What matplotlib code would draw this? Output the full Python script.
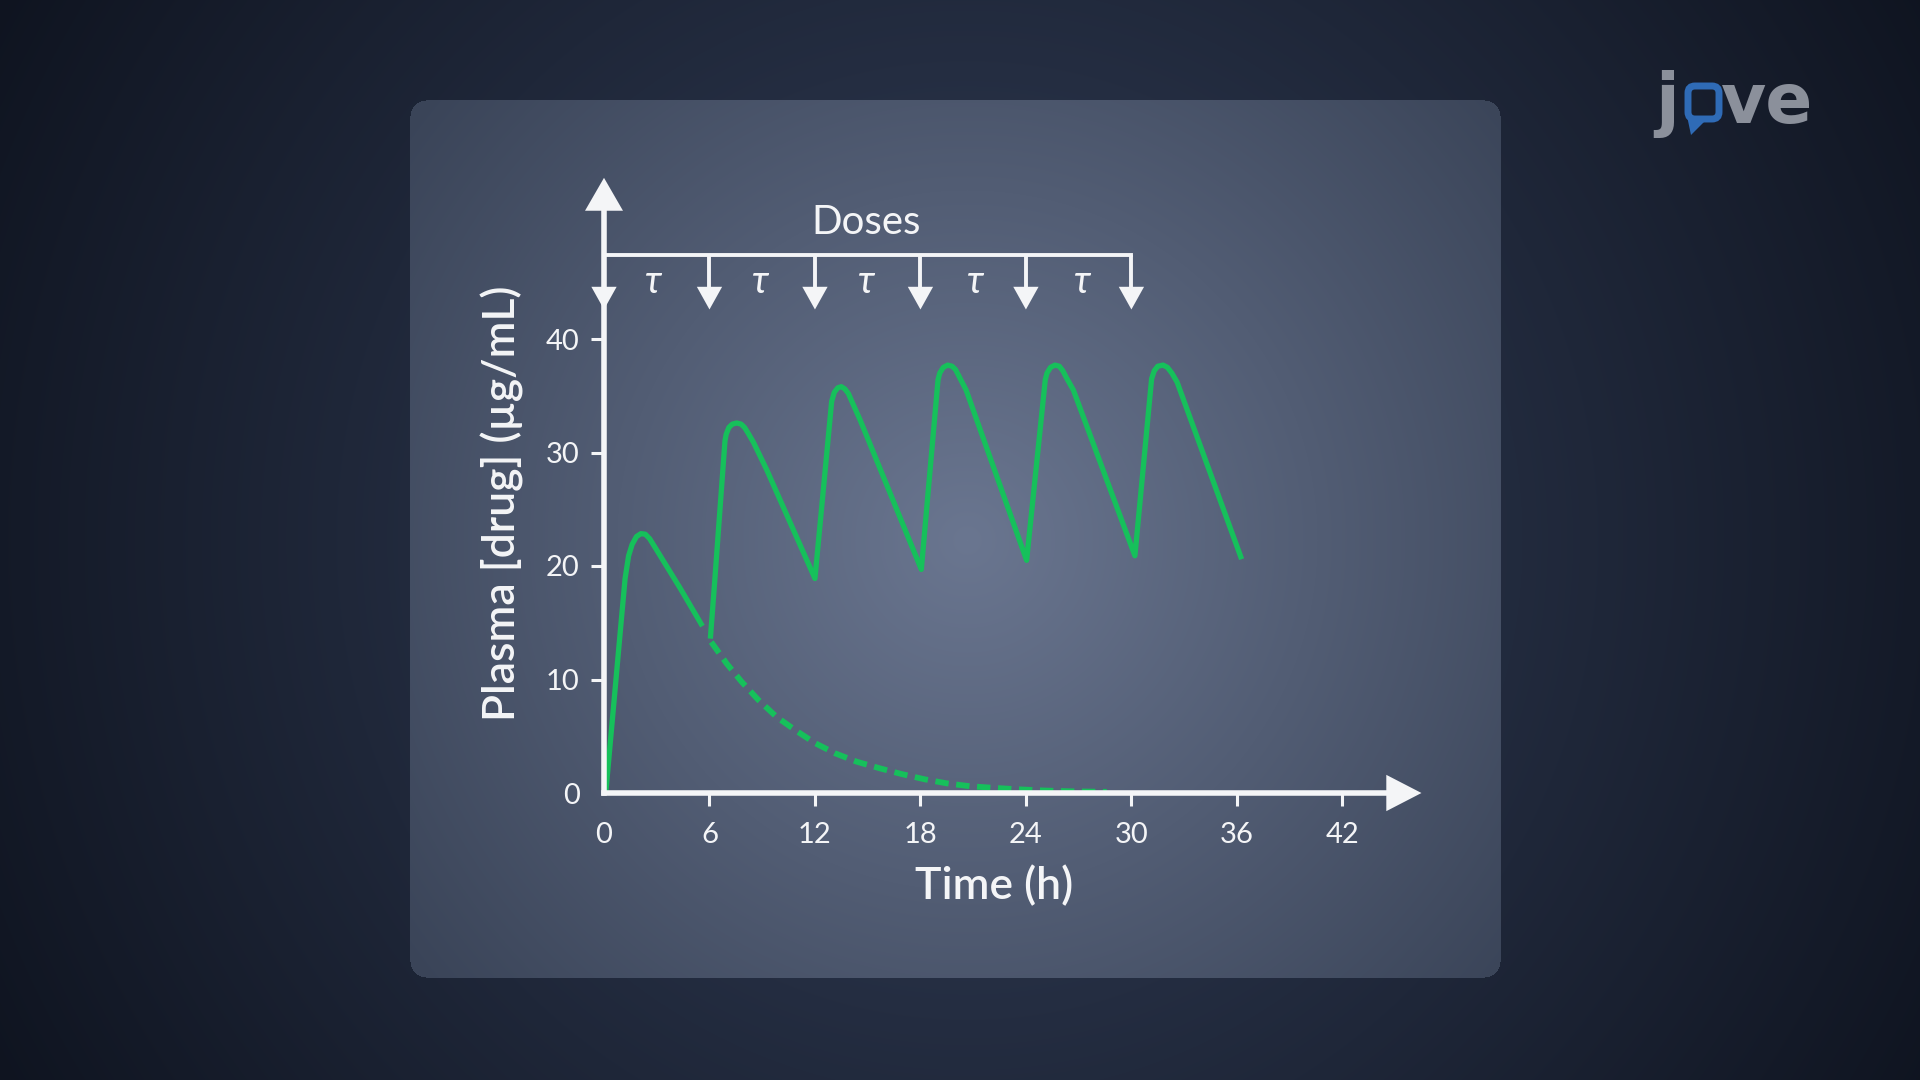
import numpy as np
import matplotlib
matplotlib.use("Agg")
import matplotlib.pyplot as plt
from matplotlib.patches import Polygon, FancyBboxPatch

# ---------------- data ----------------
x_ticks = [0, 6, 12, 18, 24, 30, 36, 42]
y_ticks = [0, 10, 20, 30, 40]
dose_times = [0, 6, 12, 18, 24, 30]
tau_positions = [2.8, 8.9, 14.9, 21.1, 27.2]

# first dose (solid, ends just before the 2nd dose)
first_dose_t = [0.1, 0.6, 1.0, 1.2, 1.4, 1.6, 1.85, 2.1, 2.35, 2.6, 3.0, 4.35, 5.6]
first_dose_c = [0.0, 8.6, 15.5, 18.9, 20.9, 21.9, 22.6, 22.85, 22.8, 22.4, 21.4, 18.0, 14.7]

# repeated dosing (solid) from the 2nd dose on
multi_dose_t = [6.05, 6.3, 6.88, 6.95, 7.1, 7.3, 7.55, 7.8, 8.0, 8.2, 8.5, 9.25, 12.0,
                12.95, 13.1, 13.3, 13.5, 13.7, 13.9, 14.1, 14.56, 18.05,
                19.0, 19.1, 19.3, 19.55, 19.8, 20.0, 20.2, 20.6, 24.04,
                25.1, 25.2, 25.4, 25.65, 25.9, 26.1, 26.3, 26.7, 30.2,
                31.15, 31.3, 31.5, 31.8, 32.05, 32.3, 32.6, 36.27]
multi_dose_c = [13.6, 18.7, 31.0, 31.6, 32.2, 32.5, 32.6, 32.5, 32.2, 31.7, 30.9, 28.5, 18.9,
                34.5, 35.3, 35.7, 35.8, 35.6, 35.2, 34.5, 32.9, 19.7,
                36.4, 37.0, 37.5, 37.7, 37.6, 37.3, 36.7, 35.5, 20.5,
                36.4, 37.0, 37.5, 37.7, 37.6, 37.2, 36.6, 35.5, 20.9,
                36.5, 37.2, 37.6, 37.7, 37.5, 37.0, 36.2, 20.6]

# single-dose decay (dashed)
single_decay_t = [6.1, 6.98, 7.83, 8.78, 9.82, 10.87, 12.0, 13.14, 14.37, 15.7,
                  16.93, 18.26, 19.5, 20.8, 22.1, 23.5, 25.0, 26.5, 28.6]
single_decay_c = [13.3, 11.4, 9.8, 8.2, 6.7, 5.55, 4.4, 3.5, 2.76, 2.17,
                  1.67, 1.2, 0.85, 0.6, 0.46, 0.33, 0.22, 0.15, 0.1]

x_label = "Time (h)"
y_label = "Plasma [drug] (µg/mL)"
dose_label = "Doses"
tau_label = "τ"

# ---------------- style ----------------
W, H = 1920, 1080
GREEN = "#16c05b"
WHITE = "#f4f5f7"
FONT = ["Lato", "DejaVu Sans"]
plt.rcParams["font.family"] = FONT

fig = plt.figure(figsize=(W / 100, H / 100), dpi=100)

# background axes in pixel coordinates
bg = fig.add_axes([0, 0, 1, 1])
bg.set_xlim(0, W)
bg.set_ylim(H, 0)
bg.axis("off")

yy, xx = np.mgrid[0:H, 0:W].astype(float)
cx, cy = 967.0, 540.0
r = np.hypot(xx - cx, yy - cy)
c_out_in = np.array([52, 64, 90]) / 255
c_out_edge = np.array([15, 20, 32]) / 255
f = np.clip(r / 1110, 0, 1)[..., None]
img = c_out_in * (1 - f) + c_out_edge * f

# panel (rounded rect)
px0, px1, py0, py1, rad = 410, 1500, 100, 977, 16
inside = (xx >= px0) & (xx <= px1) & (yy >= py0) & (yy <= py1)
qx = np.clip(np.maximum(px0 + rad - xx, xx - (px1 - rad)), 0, None)
qy = np.clip(np.maximum(py0 + rad - yy, yy - (py1 - rad)), 0, None)
rounded = inside & (np.hypot(qx, qy) <= rad)
c_pan_in = np.array([106, 118, 144]) / 255
c_pan_edge = np.array([58, 68, 88]) / 255
g = np.clip(r / 700, 0, 1)[..., None]
pan = c_pan_in * (1 - g) + c_pan_edge * g
img = np.where(rounded[..., None], pan, img)
bg.imshow(img, extent=(0, W, H, 0), interpolation="nearest", aspect="auto", zorder=0)

# logo "jove"
logo_grey = "#8b909b"
logo_blue = "#2f6bb6"
LOGO_FONT = ["DejaVu Sans"]
bg.text(1655, 123, "j", fontsize=50, fontweight="bold", color=logo_grey,
        ha="left", va="baseline", family=LOGO_FONT)
bg.text(1721, 123, "ve", fontsize=50, fontweight="bold", color=logo_grey,
        ha="left", va="baseline", family=LOGO_FONT)
bubble = FancyBboxPatch((1688, 86), 31, 33, boxstyle="round,pad=0,rounding_size=7",
                        fill=False, edgecolor=logo_blue, linewidth=5, zorder=3)
bg.add_patch(bubble)
bg.add_patch(Polygon([(1687, 116), (1705, 121), (1691, 135)], closed=True,
                     facecolor=logo_blue, edgecolor="none", zorder=3))

# axis labels (layout in pixels)
bg.text(502, 503, y_label, rotation=90, fontsize=32, fontweight="semibold",
        color=WHITE, ha="center", va="center", family=FONT)
bg.text(994, 886, x_label, fontsize=32, fontweight="semibold",
        color=WHITE, ha="center", va="center", family=FONT)

# ---------------- main axes ----------------
PX_H = 17.58   # px per hour
PX_V = 11.35   # px per unit
x0_px, y0_px = 604, 793
XMAX, YMAX = 47, 56
ax = fig.add_axes([x0_px / W, (H - y0_px) / H, XMAX * PX_H / W, YMAX * PX_V / H])
ax.set_xlim(0, XMAX)
ax.set_ylim(0, YMAX)
ax.patch.set_visible(False)
for s in ax.spines.values():
    s.set_visible(False)

ax.set_xticks(x_ticks)
ax.set_xticklabels([str(v) for v in x_ticks])
ax.set_yticks(y_ticks)
ax.set_yticklabels([str(v) for v in y_ticks])
ax.tick_params(axis="both", colors=WHITE, labelcolor=WHITE, labelsize=21,
               length=9.5, width=2.2, direction="out")
ax.tick_params(axis="x", pad=11.5)
ax.tick_params(axis="y", pad=8)
ax.xaxis.get_major_ticks()[0].tick1line.set_visible(False)
ax.yaxis.get_major_ticks()[0].tick1line.set_visible(False)

# curves
ax.plot(single_decay_t, single_decay_c, color=GREEN, lw=4.2, ls=(0, (2.3, 1.3)),
        dash_capstyle="butt", zorder=3, clip_on=False)
ax.plot(first_dose_t, first_dose_c, color=GREEN, lw=3.8, solid_joinstyle="round",
        solid_capstyle="butt", zorder=4, clip_on=False)
ax.plot(multi_dose_t, multi_dose_c, color=GREEN, lw=3.8, solid_joinstyle="round",
        solid_capstyle="butt", zorder=4, clip_on=False)

# axes with arrows
AX_LW = 4.0
ax.plot([0, 44.6], [0, 0], color=WHITE, lw=AX_LW, solid_capstyle="projecting",
        zorder=6, clip_on=False)
ax.plot([0, 0], [0, 51.4], color=WHITE, lw=AX_LW, solid_capstyle="projecting",
        zorder=6, clip_on=False)
ax.add_patch(Polygon([(44.5, 1.6), (46.5, 0), (44.5, -1.6)], closed=True,
                     facecolor=WHITE, edgecolor="none", zorder=6, clip_on=False))
ax.add_patch(Polygon([(-1.08, 51.3), (0, 54.2), (1.08, 51.3)], closed=True,
                     facecolor=WHITE, edgecolor="none", zorder=6, clip_on=False))

# dose bar and arrows
DOSE_Y, HEAD_TOP, HEAD_TIP, HEAD_HW = 47.4, 44.6, 42.6, 0.72
ax.plot([0, dose_times[-1]], [DOSE_Y, DOSE_Y], color=WHITE, lw=2.8,
        solid_capstyle="projecting", zorder=6, clip_on=False)
for d in dose_times:
    if d > 0:
        ax.plot([d, d], [DOSE_Y, HEAD_TOP], color=WHITE, lw=2.8,
                solid_capstyle="butt", zorder=6, clip_on=False)
    ax.add_patch(Polygon([(d - HEAD_HW, HEAD_TOP), (d, HEAD_TIP), (d + HEAD_HW, HEAD_TOP)],
                         closed=True, facecolor=WHITE, edgecolor="none", zorder=7,
                         clip_on=False))
for tp in tau_positions:
    ax.text(tp, 45.0, tau_label, fontsize=28, style="italic", color=WHITE,
            ha="center", va="center", family=["Lato", "Open Sans", "DejaVu Sans"], zorder=7)
ax.text(14.9, 50.25, dose_label, fontsize=29, color=WHITE, ha="center", va="center",
        family=FONT, zorder=7)

fig.savefig("out.png", dpi=100)
